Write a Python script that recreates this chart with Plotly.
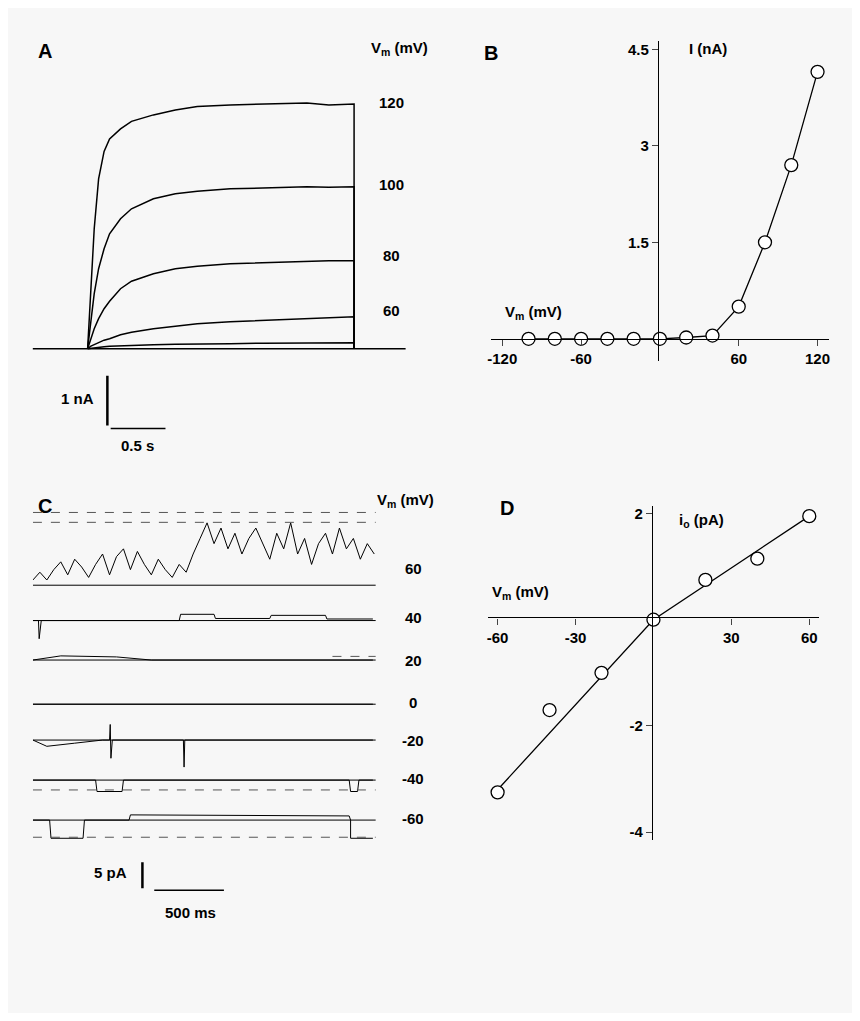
import plotly.graph_objects as go

W, H = 844, 1005
OFF = 8
def px(x): return (x - OFF) / W
def py(y): return 1 - (y - OFF) / H

# ---------- Panel A data ----------
a_t = [0, 0.03, 0.06, 0.1, 0.15, 0.2, 0.3, 0.4, 0.6, 0.8, 1.0, 1.3, 1.6, 2.0, 2.2, 2.43]
a_120 = [0, 1.2, 2.4, 3.4, 3.95, 4.2, 4.4, 4.55, 4.68, 4.78, 4.85, 4.88, 4.9, 4.92, 4.88, 4.9]
a_100 = [0, 0.6, 1.1, 1.6, 2.0, 2.3, 2.6, 2.8, 3.0, 3.1, 3.15, 3.2, 3.22, 3.24, 3.23, 3.24]
a_80 = [0, 0.2, 0.4, 0.6, 0.8, 0.95, 1.2, 1.35, 1.5, 1.6, 1.65, 1.7, 1.72, 1.75, 1.76, 1.76]
a_60 = [0, 0.05, 0.08, 0.12, 0.17, 0.2, 0.28, 0.33, 0.4, 0.45, 0.5, 0.54, 0.57, 0.6, 0.62, 0.64]
a_40 = [0, 0.01, 0.02, 0.03, 0.04, 0.05, 0.06, 0.07, 0.08, 0.09, 0.1, 0.1, 0.11, 0.11, 0.12, 0.12]
a_labels = ["120", "100", "80", "60"]

# ---------- Panel B data ----------
b_v = [-100, -80, -60, -40, -20, 0, 20, 40, 60, 80, 100, 120]
b_i = [0, 0, 0, 0, 0, 0, 0.02, 0.05, 0.5, 1.5, 2.7, 4.15]

# ---------- Panel C data ----------
c_t60 = [0, 50, 100, 150, 200, 250, 300, 350, 400, 450, 500, 550, 600, 650, 700, 750, 800,
         850, 900, 950, 1000, 1050, 1100, 1150, 1200, 1250, 1300, 1350, 1400, 1450, 1500,
         1550, 1600, 1650, 1700, 1750, 1800, 1850, 1900, 1950, 2000, 2050, 2100, 2150,
         2200, 2250, 2300, 2350, 2400, 2450]
c_i60 = [1, 2.5, 1, 3, 4.5, 2, 5, 3.5, 1.5, 4, 6, 2, 5.5, 7, 3, 6.5, 4, 2, 5, 3, 1.5, 4,
         2.5, 6, 9, 12, 8, 11, 7, 10, 6, 9, 11, 8, 5, 10, 7, 12, 6, 9, 4, 8, 10, 6, 11, 7,
         9, 5, 8, 6]
c_t40 = [0, 40, 45, 60, 1050, 1060, 1300, 1310, 1700, 1710, 2100, 2110, 2440]
c_i40 = [0, 0, -3.5, 0, 0, 1.2, 1.2, 0.4, 0.4, 1.0, 1.0, 0.3, 0.3]
c_t20 = [0, 200, 600, 800, 850, 2440]
c_i20 = [0, 0.8, 0.6, 0.2, 0, 0]
c_t0 = [0, 2440]
c_i0 = [0, 0]
c_tm20 = [0, 100, 300, 500, 550, 555, 560, 565, 570, 1080, 1085, 1090, 2440]
c_im20 = [0, -1.2, -0.6, 0, 0, 3, -3.5, 0, 0, 0, -5.2, 0, 0]
c_tm40 = [0, 450, 460, 640, 650, 2270, 2280, 2330, 2340, 2440]
c_im40 = [0, 0, -2.2, -2.2, 0, 0, -2.2, -2.2, 0, 0]
c_tm60 = [0, 120, 130, 360, 370, 690, 700, 2270, 2280, 2280, 2440]
c_im60 = [0, 0, -3.5, -3.5, 0, 0, 1, 0.8, 0, -3.5, -3.5]
c_labels = ["60", "40", "20", "0", "-20", "-40", "-60"]

# ---------- Panel D data ----------
d_v = [-60, -40, -20, 0, 20, 40, 60]
d_i = [-3.25, -1.7, -1.0, 0, 0.75, 1.15, 1.95]
d_fit_v = [-60, 0, 60]
d_fit_i = [-3.2, 0, 1.95]

fig = go.Figure()
font = dict(family="Liberation Sans", size=15, color="black")
line = dict(color="black", width=1.5)

# Panel A
for ys in [a_120, a_100, a_80, a_60, a_40]:
    fig.add_trace(go.Scatter(x=a_t + [a_t[-1]], y=ys + [0], mode="lines", line=line,
                             xaxis="x", yaxis="y", showlegend=False))
fig.add_shape(type="line", xref="x", yref="y", x0=-0.5, x1=2.9, y0=0, y1=0, line=line)
fig.add_shape(type="line", xref="x", yref="y", x0=0.18, x1=0.18, y0=-0.54, y1=-1.54,
              line=dict(color="black", width=2.5))
fig.add_shape(type="line", xref="x", yref="y", x0=0.21, x1=0.71, y0=-1.6, y1=-1.6, line=line)

# Panel B
fig.add_trace(go.Scatter(x=b_v, y=b_i, mode="lines+markers", line=dict(color="black", width=1.3),
                         marker=dict(size=13, color="white", line=dict(color="black", width=1.3)),
                         xaxis="x2", yaxis="y2", showlegend=False))

# Panel C
c_base = [60.6, 53.8, 46.2, 37.7, 30.8, 23.1, 15.4]
c_series = [(c_t60, c_i60), (c_t40, c_i40), (c_t20, c_i20), (c_t0, c_i0),
            (c_tm20, c_im20), (c_tm40, c_im40), (c_tm60, c_im60)]
for b, (tt, ii) in zip(c_base, c_series):
    fig.add_trace(go.Scatter(x=tt, y=[b + v for v in ii], mode="lines",
                             line=dict(color="black", width=1), xaxis="x3", yaxis="y3",
                             showlegend=False))
    fig.add_shape(type="line", xref="x3", yref="y3", x0=0, x1=2460, y0=b, y1=b,
                  line=dict(color="black", width=1))
dash = dict(color="#555", width=1, dash="dash")
for (x0, x1, yv) in [(0, 2460, 74.6), (0, 2460, 72.7), (2150, 2460, 46.9),
                     (0, 2460, 21.2), (0, 2460, 12.1)]:
    fig.add_shape(type="line", xref="x3", yref="y3", x0=x0, x1=x1, y0=yv, y1=yv, line=dash)
fig.add_shape(type="line", xref="x3", yref="y3", x0=786, x1=786, y0=7.3, y1=2.3,
              line=dict(color="black", width=2.5))
fig.add_shape(type="line", xref="x3", yref="y3", x0=871, x1=1371, y0=1.9, y1=1.9, line=line)

# Panel D
fig.add_trace(go.Scatter(x=d_fit_v, y=d_fit_i, mode="lines", line=dict(color="black", width=1.3),
                         xaxis="x4", yaxis="y4", showlegend=False))
fig.add_trace(go.Scatter(x=d_v, y=d_i, mode="markers",
                         marker=dict(size=13, color="white", line=dict(color="black", width=1.3)),
                         xaxis="x4", yaxis="y4", showlegend=False))

ann = []
def t(x, y, s, **k):
    d = dict(x=px(x), y=py(y), xref="paper", yref="paper", text=s, showarrow=False,
             font=font, xanchor="center", yanchor="middle")
    d.update(k)
    ann.append(d)

big = dict(family="Liberation Sans", size=20, color="black")
t(42, 50, "<b>A</b>", font=big)
t(490, 52, "<b>B</b>", font=big)
t(42, 505, "<b>C</b>", font=big)
t(506, 507, "<b>D</b>", font=big)
t(398, 48, "<b>V<sub>m</sub> (mV)</b>")
for lab, yy in zip(a_labels, [102, 184, 255, 310]):
    t(390, yy, "<b>%s</b>" % lab)
t(75, 398, "<b>1 nA</b>")
t(135, 445, "<b>0.5 s</b>")
t(708, 48, "<b>I (nA)</b>")
t(533, 312, "<b>V<sub>m</sub> (mV)</b>")
t(404, 500, "<b>V<sub>m</sub> (mV)</b>")
for lab, yy in zip(c_labels, [568, 617, 660, 702, 740, 778, 818]):
    t(412, yy, "<b>%s</b>" % lab)
t(108, 872, "<b>5 pA</b>")
t(188, 912, "<b>500 ms</b>")
t(702, 520, "<b>i<sub>o</sub> (pA)</b>")
t(520, 592, "<b>V<sub>m</sub> (mV)</b>")

def xd(a, b): return [px(a), px(b)]
def yd(top, bot): return [py(bot), py(top)]

tickf = dict(family="Liberation Sans", size=15, color="black")
hidden = dict(visible=False, showgrid=False, zeroline=False)
axstyle = dict(showgrid=False, zeroline=False, showline=True, linecolor="black",
               linewidth=1.3, ticks="outside", ticklen=6, tickfont=tickf, anchor="free")
fig.update_layout(
    width=W, height=H, autosize=False, margin=dict(l=0, r=0, t=0, b=0),
    paper_bgcolor="#f7f7f7", plot_bgcolor="rgba(0,0,0,0)",
    annotations=ann,
    xaxis=dict(hidden, domain=xd(20, 410), range=[-0.59, 2.95]),
    yaxis=dict(hidden, domain=yd(40, 460), range=[-2.24, 6.16]),
    xaxis2=dict(axstyle, domain=xd(490, 830), range=[-128.8, 128.8], position=py(338),
                tickvals=[-120, -60, 60, 120],
                ticktext=["<b>-120</b>", "<b>-60</b>", "<b>60</b>", "<b>120</b>"]),
    yaxis2=dict(axstyle, domain=yd(40, 360), range=[-0.34, 4.63], position=px(658),
                tickvals=[1.5, 3, 4.5], ticktext=["<b>1.5</b>", "<b>3</b>", "<b>4.5</b>"]),
    xaxis3=dict(hidden, domain=xd(30, 380), range=[0, 2500]),
    yaxis3=dict(hidden, domain=yd(500, 900), range=[0, 76.9]),
    xaxis4=dict(axstyle, domain=xd(487, 820), range=[-63.8, 63.8], position=py(617),
                tickvals=[-60, -30, 30, 60],
                ticktext=["<b>-60</b>", "<b>-30</b>", "<b>30</b>", "<b>60</b>"]),
    yaxis4=dict(axstyle, domain=yd(505, 840), range=[-4.15, 2.15], position=px(652),
                tickvals=[2, -2, -4], ticktext=["<b>2</b>", "<b>-2</b>", "<b>-4</b>"]),
)
fig.write_html("out.html")
